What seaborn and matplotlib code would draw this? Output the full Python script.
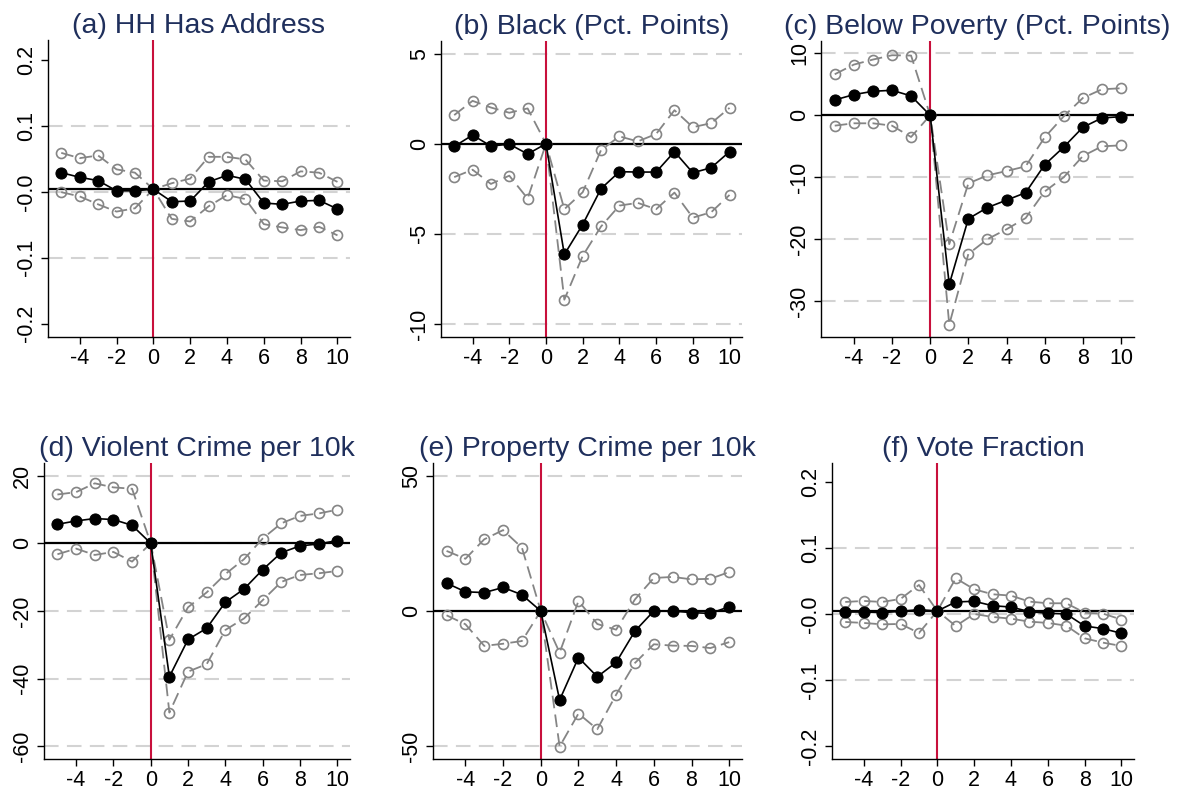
import numpy as np
import pandas as pd
import matplotlib
matplotlib.use("Agg")
import matplotlib.pyplot as plt
import seaborn as sns

sns.set_style("white")
plt.rcParams['font.family'] = ['Liberation Sans', 'DejaVu Sans']

years = [-5, -4, -3, -2, -1, 0, 1, 2, 3, 4, 5, 6, 7, 8, 9, 10]

titles = ["(a) HH Has Address", "(b) Black (Pct. Points)", "(c) Below Poverty (Pct. Points)",
          "(d) Violent Crime per 10k", "(e) Property Crime per 10k", "(f) Vote Fraction"]

est_a = [0.029, 0.022, 0.017, 0.0015, 0.0015, 0.004, -0.015, -0.014, 0.015, 0.025, 0.019, -0.017, -0.019, -0.014, -0.013, -0.026]
hi_a = [0.059, 0.051, 0.055, 0.034, 0.029, 0.004, 0.013, 0.020, 0.053, 0.053, 0.049, 0.017, 0.016, 0.031, 0.029, 0.015]
lo_a = [-0.0005, -0.007, -0.019, -0.030, -0.025, 0.004, -0.041, -0.045, -0.022, -0.005, -0.011, -0.049, -0.054, -0.058, -0.053, -0.066]

est_b = [-0.15, 0.48, -0.13, -0.02, -0.57, 0.0, -6.14, -4.48, -2.49, -1.55, -1.57, -1.57, -0.44, -1.61, -1.33, -0.44]
hi_b = [1.59, 2.38, 2.01, 1.72, 1.96, 0.0, -3.63, -2.69, -0.35, 0.41, 0.13, 0.54, 1.86, 0.92, 1.14, 1.99]
lo_b = [-1.85, -1.44, -2.23, -1.77, -3.04, 0.0, -8.65, -6.22, -4.59, -3.43, -3.28, -3.63, -2.71, -4.10, -3.80, -2.84]

est_c = [2.48, 3.34, 3.88, 4.04, 3.13, 0.0, -27.3, -16.7, -14.9, -13.7, -12.5, -7.98, -5.12, -1.94, -0.43, -0.22]
hi_c = [6.63, 8.19, 9.0, 9.70, 9.65, 0.0, -20.8, -11.0, -9.7, -9.0, -8.25, -3.56, -0.16, 2.80, 4.20, 4.37]
lo_c = [-1.67, -1.29, -1.29, -1.67, -3.50, 0.0, -33.8, -22.4, -20.0, -18.4, -16.6, -12.3, -10.0, -6.58, -5.01, -4.85]

est_d = [5.6, 6.6, 7.3, 7.0, 5.3, 0.0, -39.4, -28.4, -25.1, -17.4, -13.5, -7.8, -2.76, -0.79, -0.2, 0.79]
hi_d = [14.4, 15.1, 17.7, 16.5, 16.1, 0.0, -28.5, -18.9, -14.5, -9.1, -4.7, 1.4, 5.9, 8.1, 8.8, 9.9]
lo_d = [-3.25, -1.58, -3.45, -2.56, -5.42, 0.0, -50.0, -37.9, -35.7, -25.6, -22.2, -16.8, -11.4, -9.36, -8.87, -8.18]

est_e = [10.3, 7.1, 6.8, 8.7, 6.0, 0.0, -32.9, -17.2, -24.3, -19.0, -7.4, 0.0, 0.0, -0.6, -0.9, 1.6]
hi_e = [22.2, 19.3, 26.5, 29.9, 23.4, 0.0, -15.4, 3.7, -4.8, -6.9, 4.3, 12.2, 12.6, 11.7, 11.9, 14.4]
lo_e = [-1.6, -4.9, -12.9, -12.1, -11.1, 0.0, -50.1, -37.9, -43.7, -30.9, -19.2, -12.3, -12.8, -12.9, -13.7, -11.5]

est_f = [0.0035, 0.0035, 0.0025, 0.0045, 0.007, 0.005, 0.0187, 0.0197, 0.013, 0.011, 0.004, 0.0015, 0.0005, -0.0177, -0.0217, -0.0288]
hi_f = [0.0187, 0.0202, 0.0187, 0.0232, 0.0444, 0.005, 0.0545, 0.0379, 0.0303, 0.0283, 0.0192, 0.0167, 0.0167, 0.0025, 0.001, -0.008]
lo_f = [-0.0116, -0.0131, -0.0152, -0.0146, -0.0283, 0.005, -0.0177, 0.0005, -0.004, -0.0066, -0.0111, -0.0131, -0.0172, -0.0364, -0.0429, -0.048]

estimates = [est_a, est_b, est_c, est_d, est_e, est_f]
uppers = [hi_a, hi_b, hi_c, hi_d, hi_e, hi_f]
lowers = [lo_a, lo_b, lo_c, lo_d, lo_e, lo_f]

ref_lines = [0.004, 0.0, 0.0, 0.0, 0.0, 0.005]

yticks = [[0.2, 0.1, 0.0, -0.1, -0.2], [5, 0, -5, -10], [10, 0, -10, -20, -30],
          [20, 0, -20, -40, -60], [50, 0, -50], [0.2, 0.1, 0.0, -0.1, -0.2]]
ytick_labels = [["0.2", "0.1", "-0.0", "-0.1", "-0.2"], ["5", "0", "-5", "-10"],
                ["10", "0", "-10", "-20", "-30"], ["20", "0", "-20", "-40", "-60"],
                ["50", "0", "-50"], ["0.2", "0.1", "-0.0", "-0.1", "-0.2"]]
grid_vals = [[0.1, 0.0, -0.1], [5, 0, -5, -10], [10, 0, -10, -20, -30],
             [20, 0, -20, -40, -60], [50, 0, -50], [0.1, 0.0, -0.1]]
ylims = [(-0.22, 0.23), (-10.72, 5.7), (-35.8, 12.0), (-63.7, 23.7), (-54.7, 54.7), (-0.219, 0.229)]
xticks = [-4, -2, 0, 2, 4, 6, 8, 10]

W, H = 1181, 791
boxes = [(48, 350, 40, 337), (441, 742, 41, 337), (821, 1134, 41, 337),
         (44, 350, 463, 759), (433, 742, 463, 759), (832, 1134, 463, 759)]

fig = plt.figure(figsize=(W / 100, H / 100), dpi=100)
title_color = "#1f2f5c"
gray = "#858585"
red = "#c8103c"

for i in range(6):
    l, r, t, b = boxes[i]
    ax = fig.add_axes([l / W, (H - b) / H, (r - l) / W, (b - t) / H])
    df = pd.DataFrame({"year": years, "est": estimates[i], "hi": uppers[i], "lo": lowers[i]})
    for g in grid_vals[i]:
        ax.axhline(g, color="#d3d3d3", lw=1.5, linestyle=(0, (7, 4)), zorder=0)
    ax.axhline(ref_lines[i], color="black", lw=1.6, zorder=1)
    ax.axvline(0, color=red, lw=1.5, zorder=1.5)
    for col in ["hi", "lo"]:
        sns.lineplot(data=df, x="year", y=col, ax=ax, color=gray, lw=1.3,
                     linestyle=(0, (7, 3.5)), marker="o", markersize=7.2,
                     markerfacecolor="none", markeredgecolor=gray, markeredgewidth=1.2,
                     zorder=2)
    sns.lineplot(data=df, x="year", y="est", ax=ax, color="black", lw=1.2,
                 marker="o", markersize=8, markerfacecolor="black",
                 markeredgecolor="black", zorder=3)
    ax.set_xlim(-5.72, 10.68)
    ax.set_ylim(*ylims[i])
    ax.set_xticks(xticks)
    ax.set_xticklabels([str(v) for v in xticks])
    ax.set_yticks(yticks[i])
    ax.set_yticklabels(ytick_labels[i], rotation=90, va="center")
    ax.tick_params(axis="both", direction="out", length=5, width=1, color="black",
                   labelsize=15.5, labelcolor="black", pad=3, left=True, bottom=True)
    ax.set_xlabel("")
    ax.set_ylabel("")
    for s in ["top", "right"]:
        ax.spines[s].set_visible(False)
    for s in ["left", "bottom"]:
        ax.spines[s].set_color("black")
        ax.spines[s].set_linewidth(1.0)
    ax.set_title(titles[i], fontsize=20.5, color=title_color, pad=5)

fig.savefig("out.png", dpi=100, facecolor="white")
